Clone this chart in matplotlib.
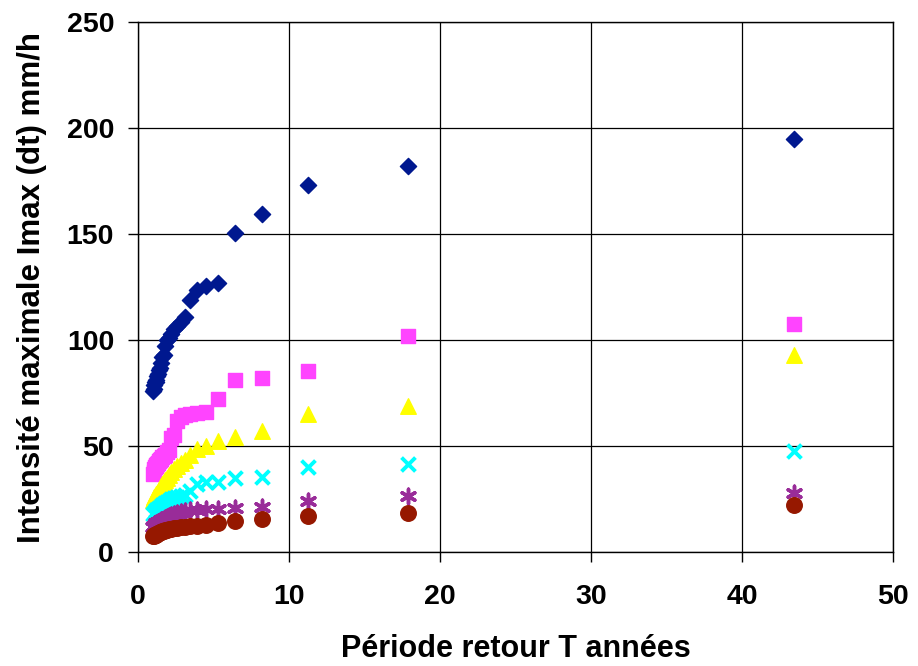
import matplotlib.pyplot as plt
import numpy as np

plt.rcParams['font.family'] = ['Liberation Sans', 'DejaVu Sans']

# Périodes de retour (années)
T = [43.43, 17.88, 11.26, 8.22, 6.47, 5.33, 4.54, 3.95, 3.49, 3.13,
     2.84, 2.60, 2.39, 2.22, 2.07, 1.94, 1.82, 1.72, 1.63, 1.54,
     1.47, 1.40, 1.34, 1.28, 1.23, 1.18, 1.14, 1.10, 1.06, 1.02]

# Intensités maximales par durée
s1 = [195, 182, 173, 159.5, 150.5, 127, 125.5, 123.5, 119, 111,
      108.5, 106.5, 105, 103, 101, 100, 97, 93, 92, 89,
      87, 86, 84, 83, 81, 80, 80, 79, 77, 76]
s2 = [107.5, 102, 85.5, 82, 81, 72, 66, 65.5, 65, 64.5,
      63.5, 62, 55, 54, 48, 47, 46, 45.5, 45, 44,
      43.5, 43, 42, 41.5, 41, 40.5, 40, 39, 38, 37]
s3 = [93, 69, 65, 57, 54.5, 52.5, 50, 48.5, 46, 43.5,
      42, 40.5, 39, 38, 36.5, 35, 34, 33, 32, 31,
      30, 29.5, 28.5, 28, 27.5, 27, 26.5, 26, 25.5, 24.5]
s4 = [47.5, 41.5, 40, 35.5, 35, 33, 33, 32, 29, 27,
      26.5, 26, 25.5, 25, 24, 23.5, 23, 22.5, 22, 21.5,
      21, 21, 20.5, 20, 20, 19.5, 19, 18.5, 18, 18]
s5 = [28, 26.5, 24, 21.5, 21, 20.5, 20.5, 20, 20, 19.5,
      19, 18.5, 18, 17.5, 17, 16.5, 16, 15.5, 15, 15,
      14.5, 14, 14, 13.5, 13.5, 13, 13, 12.5, 12.5, 12]
s6 = [22, 18.5, 17, 15.5, 14.5, 13.5, 13, 12.5, 12.5, 12,
      12, 11.5, 11.5, 11, 11, 10.5, 10.5, 10, 10, 9.5,
      9.5, 9, 9, 8.5, 8.5, 8, 8, 8, 7.5, 7.5]

fig = plt.figure(figsize=(9.18, 6.66), dpi=100)
ax = fig.add_axes([0.150, 0.171, 0.823, 0.796])

ax.scatter(T, s1, marker='D', s=68, color='#00188F', zorder=3)
ax.scatter(T, s2, marker='s', s=92, color='#FF44FF', zorder=3)
ax.scatter(T, s3, marker='^', s=125, color='#FFFF00', zorder=3)
ax.scatter(T, s4, marker='x', s=100, color='#00FFFF', linewidths=2.8, zorder=3)
ax.scatter(T, s5, marker=(6, 2, 0), s=110, color='#992C99', linewidths=2.5, zorder=3)
ax.scatter(T, s6, marker='o', s=125, color='#961800', zorder=3)

ax.set_xlim(0, 50)
ax.set_ylim(0, 250)
ax.set_xticks(range(0, 51, 10))
ax.set_yticks(range(0, 251, 50))
ax.grid(True, color='black', linewidth=0.9)
ax.set_axisbelow(True)
for sp in ax.spines.values():
    sp.set_color('black')
    sp.set_linewidth(1.0)
ax.tick_params(direction='out', length=7, width=1, labelsize=20.5)
ax.tick_params(axis='y', pad=10)
ax.tick_params(axis='x', pad=16)
for lab in ax.get_xticklabels() + ax.get_yticklabels():
    lab.set_fontweight('bold')

ax.set_xlabel('Période retour T années', fontsize=22, fontweight='bold', labelpad=17)
ax.set_ylabel('Intensité maximale Imax (dt) mm/h', fontsize=22.5, fontweight='bold', labelpad=14)

fig.savefig('out.png', dpi=100)
